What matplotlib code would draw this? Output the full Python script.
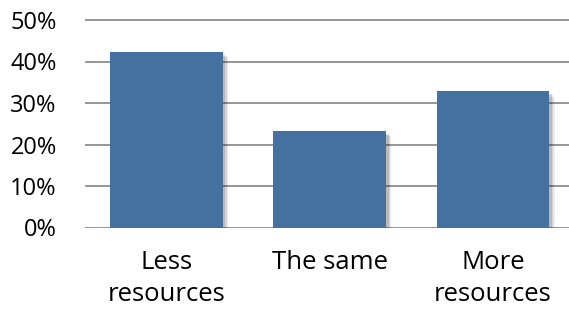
import matplotlib.pyplot as plt
import matplotlib.patheffects as pe
from matplotlib.ticker import PercentFormatter

# Share of answers per option
categories = ["Less\nresources", "The same", "More\nresources"]
shares = [0.424, 0.233, 0.329]
y_ticks = [0, 0.1, 0.2, 0.3, 0.4, 0.5]

plt.rcParams['font.family'] = ['Open Sans', 'DejaVu Sans']

fig = plt.figure(figsize=(5.69, 3.11), dpi=100)
ax = fig.add_axes([84.5 / 569, 83.5 / 311, 484.5 / 569, 215.8 / 311])

x = range(len(categories))
shadow = [pe.SimplePatchShadow(offset=(4, -4), shadow_rgbFace='#000000', alpha=0.07),
          pe.SimplePatchShadow(offset=(3, -3), shadow_rgbFace='#000000', alpha=0.1),
          pe.SimplePatchShadow(offset=(2, -2), shadow_rgbFace='#000000', alpha=0.12),
          pe.Normal()]
bars = ax.bar(x, shares, width=0.69, color='#44719f', zorder=3)
for b in bars:
    b.set_path_effects(shadow)

ax.set_xlim(-0.5, 2.466)
ax.set_ylim(0, 0.52)
ax.set_yticks(y_ticks)
ax.yaxis.set_major_formatter(PercentFormatter(1.0, decimals=0))
ax.set_xticks(list(x))
ax.set_xticklabels(categories, linespacing=1.4)

ax.grid(axis='y', color='#8e8e8e', linewidth=1.3, zorder=0)
ax.set_axisbelow(True)
for s in ax.spines.values():
    s.set_visible(False)
ax.tick_params(axis='y', length=0, pad=20, labelsize=17)
ax.tick_params(axis='x', length=0, pad=16, labelsize=18.5)

fig.savefig("out.png", dpi=100)
